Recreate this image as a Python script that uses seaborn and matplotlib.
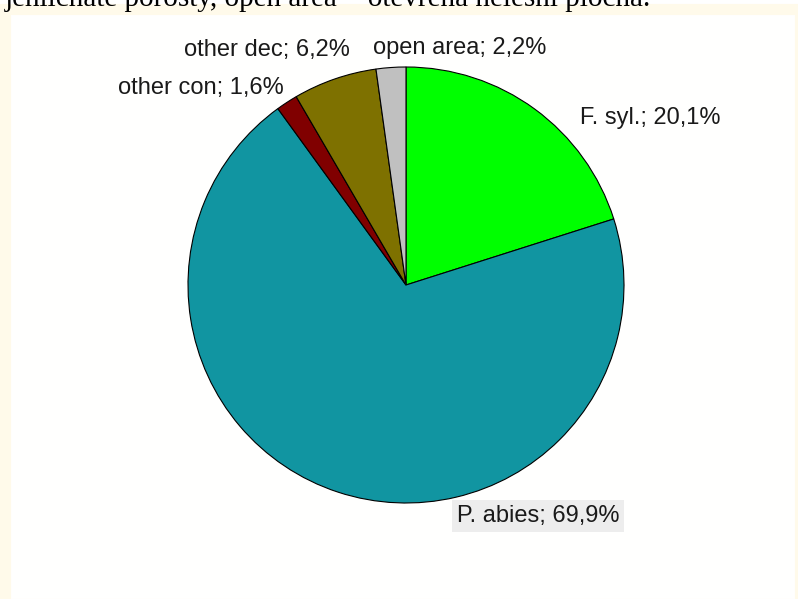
import matplotlib
matplotlib.use("Agg")
import matplotlib.pyplot as plt
import seaborn as sns
from matplotlib.patches import Rectangle

# ---- data ----
categories = ["F. syl.", "P. abies", "other con", "other dec", "open area"]
shares = [20.1, 69.9, 1.6, 6.2, 2.2]
label_texts = ["F. syl.; 20,1%", "P. abies; 69,9%", "other con; 1,6%",
               "other dec; 6,2%", "open area; 2,2%"]
caption = "jehličnaté porosty, open area = otevřená nelesní plocha."

# ---- style ----
sns.set_style("white")
plt.rcParams['font.family'] = ['Liberation Sans', 'DejaVu Sans']
colors = sns.color_palette(["#00FF00", "#1195A1", "#800000", "#7E7100", "#C0C0C0"])

W, H = 798, 599
fig = plt.figure(figsize=(W / 100, H / 100), dpi=100)
fig.patch.set_facecolor("white")

# cream panel
panel = Rectangle((5 / W, -5 / H), (W - 3) / W, (H - 4) / H, transform=fig.transFigure,
                  facecolor="#FFFFFE", edgecolor="#FFFAEA", linewidth=8, zorder=0)
fig.patches.append(panel)

# cut caption at the top
fig.text(5 / W, 1 - 6 / H, caption, family="Liberation Serif", fontsize=21,
         va="baseline", ha="left", color="black", zorder=3)

ax = fig.add_axes([0, 0, 1, 1])
ax.set_zorder(2)
ax.set_facecolor("none")
ax.patch.set_alpha(0)
cx, cy, R = 406, 285, 218
ax.axis("off")

wedges, _ = ax.pie(shares, colors=colors, startangle=90, counterclock=False,
                   radius=1.0, center=(0, 0),
                   wedgeprops=dict(edgecolor="black", linewidth=0.8))
ax.set_xlim(-cx / R, (W - cx) / R)
ax.set_ylim(-(H - cy) / R, cy / R)
ax.set_aspect("auto")

# label layout (pixels relative to pie centre, y up) and alignment
label_pos = [(174, 167, "left"), (51, -231, "left"), (-122, 197, "right"),
             (-56, 235, "right"), (-33, 237, "left")]
for txt, (dx, dy, ha) in zip(label_texts, label_pos):
    kw = {}
    if txt.startswith("P. abies"):
        kw["bbox"] = dict(boxstyle="square,pad=0.2", facecolor="#EDEDED", edgecolor="none")
    ax.text(dx / R, dy / R, txt, ha=ha, va="center", fontsize=17, color="#1a1a1a", **kw)

fig.savefig("out.png", dpi=100)
